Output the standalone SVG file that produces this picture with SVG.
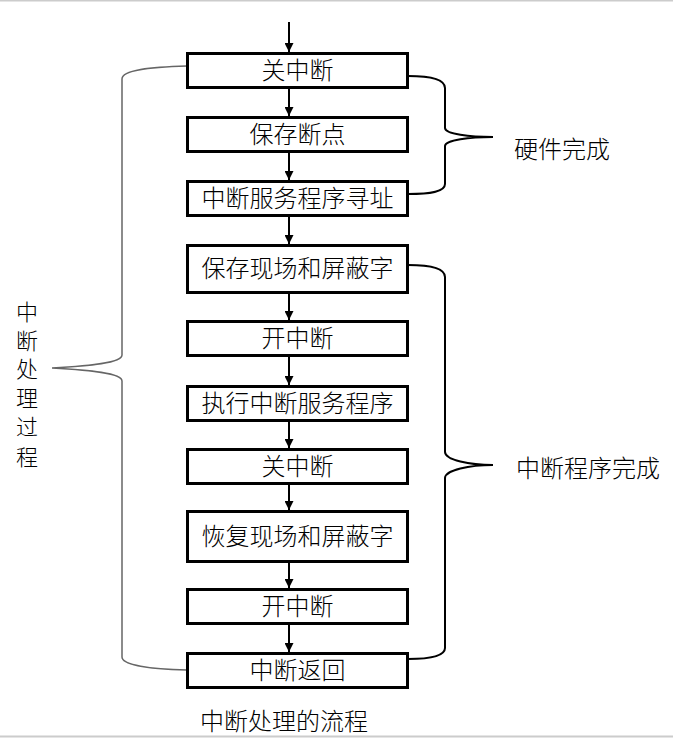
<svg xmlns="http://www.w3.org/2000/svg" width="673" height="738" viewBox="0 0 673 738">
<style>
.box{fill:#fff;stroke:#000;stroke-width:3}
.t{font-family:"Liberation Sans","Noto Sans CJK SC",sans-serif;font-size:24px;font-weight:300;fill:#000;text-anchor:middle}
.lbl{font-family:"Liberation Sans","Noto Sans CJK SC",sans-serif;font-size:24px;font-weight:300;fill:#000}
.v{font-size:22px}
.arr{stroke:#000;stroke-width:2;fill:none;marker-end:url(#ah)}
.br{fill:none;stroke:#000;stroke-width:2}
.brg{fill:none;stroke:#666;stroke-width:1.5}
</style>
<defs>
<marker id="ah" viewBox="0 0 10 10" refX="10" refY="5" markerWidth="4.5" markerHeight="4.5" markerUnits="strokeWidth" orient="auto">
<path d="M0,0 L10,5 L0,10 z" fill="#000"/>
</marker>
</defs>
<rect x="0" y="0" width="673" height="738" fill="#fff"/>
<line x1="0" y1="0.5" x2="673" y2="0.5" stroke="#ccc" stroke-width="2"/>
<line x1="0" y1="736.5" x2="673" y2="736.5" stroke="#ccc" stroke-width="2"/>
<g id="connectors">
<line class="arr" x1="289" y1="22" x2="289" y2="52"/>
<line class="arr" x1="289" y1="88" x2="289" y2="116"/>
<line class="arr" x1="289" y1="152" x2="289" y2="180"/>
<line class="arr" x1="289" y1="216" x2="289" y2="244"/>
<line class="arr" x1="289" y1="293" x2="289" y2="320"/>
<line class="arr" x1="289" y1="356" x2="289" y2="385"/>
<line class="arr" x1="289" y1="421" x2="289" y2="448"/>
<line class="arr" x1="289" y1="484" x2="289" y2="510"/>
<line class="arr" x1="289" y1="562" x2="289" y2="588"/>
<line class="arr" x1="289" y1="624" x2="289" y2="652"/>
</g>
<g id="braces">
<path class="br" d="M408,76 C430,76 445,79 445,88 L445,128 C445,134 470,137 493,137 C470,137 445,140 445,146 L445,184 C445,192 430,194 408,194"/>
<path class="br" d="M408,265 C430,265 445,268 445,277 L445,452 C445,460 470,465 493,465 C470,465 445,470 445,478 L445,648 C445,656 430,659 408,659"/>
<path class="brg" d="M187,66 C150,67 122,70 122,79 L122,355 C122,363 90,366 52,368 C90,370 122,373 122,381 L122,657 C122,665 150,669 187,670"/>
</g>
<g id="n1"><rect class="box" x="187.5" y="53.5" width="220" height="34"/><text class="t" x="297.5" y="79">关中断</text></g>
<g id="n2"><rect class="box" x="187.5" y="117.5" width="220" height="34"/><text class="t" x="297.5" y="143">保存断点</text></g>
<g id="n3"><rect class="box" x="187.5" y="181.5" width="220" height="34"/><text class="t" x="297.5" y="207">中断服务程序寻址</text></g>
<g id="n4"><rect class="box" x="187.5" y="245.5" width="220" height="47"/><text class="t" x="297.5" y="277">保存现场和屏蔽字</text></g>
<g id="n5"><rect class="box" x="187.5" y="321.5" width="220" height="34"/><text class="t" x="297.5" y="347">开中断</text></g>
<g id="n6"><rect class="box" x="187.5" y="386.5" width="220" height="34"/><text class="t" x="297.5" y="412">执行中断服务程序</text></g>
<g id="n7"><rect class="box" x="187.5" y="449.5" width="220" height="34"/><text class="t" x="297.5" y="475">关中断</text></g>
<g id="n8"><rect class="box" x="187.5" y="511.5" width="220" height="50"/><text class="t" x="297.5" y="545">恢复现场和屏蔽字</text></g>
<g id="n9"><rect class="box" x="187.5" y="589.5" width="220" height="34"/><text class="t" x="297.5" y="615">开中断</text></g>
<g id="n10"><rect class="box" x="187.5" y="653.5" width="220" height="34"/><text class="t" x="297.5" y="679">中断返回</text></g>
<g id="labels">
<text class="lbl" x="514" y="158">硬件完成</text>
<text class="lbl" x="516" y="477">中断程序完成</text>
<text class="t v" x="27" y="320">中</text>
<text class="t v" x="27" y="349">断</text>
<text class="t v" x="27" y="377">处</text>
<text class="t v" x="27" y="406">理</text>
<text class="t v" x="27" y="435">过</text>
<text class="t v" x="27" y="465">程</text>
<text class="lbl" x="200" y="730">中断处理的流程</text>
</g>
</svg>
